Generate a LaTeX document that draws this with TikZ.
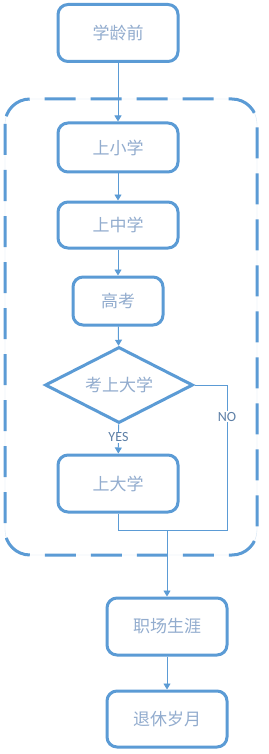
\documentclass[tikz,border=0pt]{standalone}
\usepackage{fontspec}
\newfontfamily\cjk{Noto Sans CJK SC}
\newfontfamily\latn{Carlito}
\usetikzlibrary{shapes.geometric,arrows.meta}
\definecolor{bord}{HTML}{5B9BD5}
\definecolor{txt}{HTML}{92ACCE}
\definecolor{lbl}{HTML}{5D7FA6}
\tikzset{
  x=1pt,y=-1pt,
  stepbox/.style={draw=bord,line width=3pt,rounded corners=10pt,fill=white,inner sep=0pt,
     minimum width=#1,text=txt,font=\cjk\fontsize{17}{20}\selectfont},
  decision/.style={draw=bord,line width=3pt,diamond,fill=white,inner sep=0pt,aspect=1.95,
     minimum width=148pt,minimum height=76pt,text=txt,font=\cjk\fontsize{17}{20}\selectfont},
  conn/.style={draw=bord,line width=0.9pt},
  arr/.style={conn,-{Triangle[length=6pt,width=7pt]}},
  lab/.style={fill=white,text=lbl,font=\latn\fontsize{14}{16}\selectfont,inner sep=1pt},
}
\begin{document}
\begin{tikzpicture}
\useasboundingbox (0,0) rectangle (268,754);
\fill[white] (0,0) rectangle (268,754);
% container
\draw[line width=0.4pt,draw=bord!25,rounded corners=25pt] (5,99) rectangle (257,555);
\draw[line width=3pt,draw=bord,dash pattern=on 31pt off 15pt,dash phase=0pt,rounded corners=25pt] (5,99) rectangle (257,555);
% nodes
\node[stepbox=120pt,minimum height=57pt] (A) at (118,33) {学龄前};
\node[stepbox=120pt,minimum height=49pt] (B) at (118,147.5) {上小学};
\node[stepbox=120pt,minimum height=46pt] (C) at (118,225) {上中学};
\node[stepbox=90pt,minimum height=48pt] (D) at (118,301) {高考};
\node[decision] (E) at (119,385) {考上大学};
\node[stepbox=120pt,minimum height=57pt] (F) at (118,483.5) {上大学};
\node[stepbox=120pt,minimum height=57pt] (G) at (167,626.5) {职场生涯};
\node[stepbox=120pt,minimum height=56pt] (H) at (167,719) {退休岁月};
\coordinate (J) at (167,530);
\coordinate (NR) at (227,385);
\coordinate (NB) at (227,530);
% connectors
\draw[arr] (A) -- (B);
\draw[arr] (B) -- (C);
\draw[arr] (C) -- (D);
\draw[arr] (D) -- (E);
\draw[arr] (E) -- node[lab,pos=0.45]{YES} (F);
\draw[conn] (E.east) -- (NR) -- node[lab,pos=0.22]{NO} (NB) -- (J);
\draw[conn] (F.south) |- (J);
\draw[arr] (J) -- (G);
\draw[arr] (G) -- (H);
\end{tikzpicture}
\end{document}
